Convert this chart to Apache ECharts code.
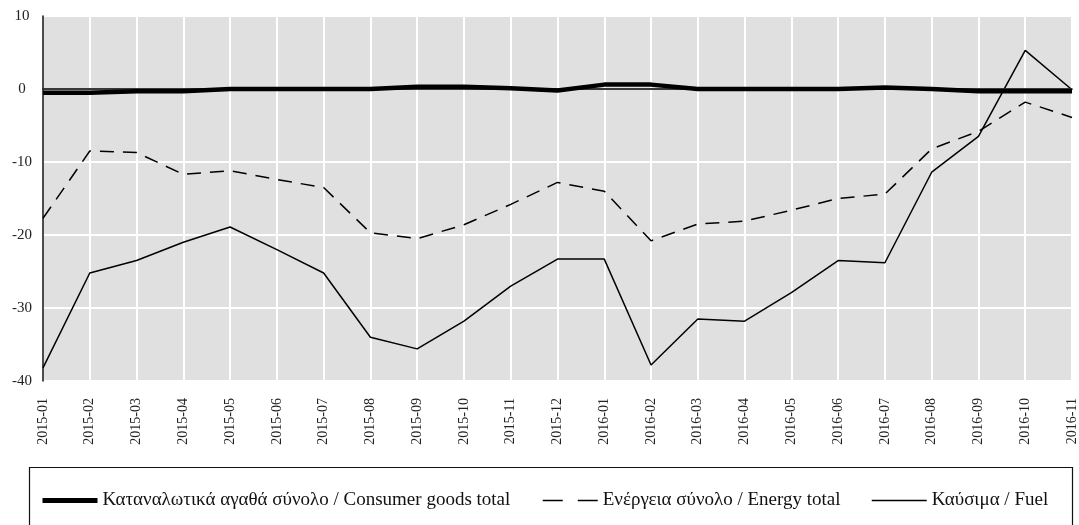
<!DOCTYPE html>
<html>
<head>
<meta charset="utf-8">
<script src="https://cdn.jsdelivr.net/npm/echarts@6/dist/echarts.min.js"></script>
<style>html,body{margin:0;padding:0;background:#fff}#c{width:1079px;height:525px}</style>
</head>
<body>
<div id="c"></div>
<script>
const categories = ['2015-01','2015-02','2015-03','2015-04','2015-05','2015-06','2015-07','2015-08','2015-09','2015-10','2015-11','2015-12',
  '2016-01','2016-02','2016-03','2016-04','2016-05','2016-06','2016-07','2016-08','2016-09','2016-10','2016-11'];
const consumerGoods = [-0.5,-0.5,-0.3,-0.3,0,0,0,0,0.3,0.3,0.1,-0.2,0.6,0.6,0,0,0,0,0.2,0,-0.3,-0.3,-0.3];
const energy = [-17.7,-8.5,-8.7,-11.7,-11.2,-12.4,-13.5,-19.7,-20.5,-18.6,-15.8,-12.8,-14.0,-20.8,-18.5,-18.1,-16.6,-15.0,-14.4,-8.2,-5.8,-1.8,-3.9];
const fuel = [-38.2,-25.2,-23.5,-21.0,-18.9,-22.0,-25.2,-34.0,-35.6,-31.8,-27.0,-23.3,-23.3,-37.8,-31.5,-31.8,-27.9,-23.5,-23.8,-11.4,-6.5,5.3,-0.1];
const yTicks = {min:-40, max:10, interval:10};
const names = ['Καταναλωτικά αγαθά σύνολο / Consumer goods total','Ενέργεια σύνολο / Energy total','Καύσιμα / Fuel'];

const FONT = 'Liberation Serif';
const chart = echarts.init(document.getElementById('c'), null, {renderer:'canvas'});
const legendBase = {top: 491, itemWidth: 55, itemHeight: 16, itemGap: 0,
  itemStyle:{color:'rgba(0,0,0,0)', borderColor:'rgba(0,0,0,0)', borderWidth:0},
  textStyle:{fontFamily:FONT, fontSize:19, color:'#111'}, padding:0, selectedMode:false};
chart.setOption({
  animation:false,
  textStyle:{fontFamily:FONT},
  grid:{left:43, right:4, top:16, bottom:144, backgroundColor:'#e0e0e0', show:true, borderWidth:0},
  graphic:[{type:'rect', shape:{x:29.5, y:467.5, width:1043, height:80}, style:{fill:'none', stroke:'#111', lineWidth:1.2}, silent:true}],
  legend:[
    Object.assign({}, legendBase, {left:40, data:[names[0]], lineStyle:{width:5, color:'#000'}}),
    Object.assign({}, legendBase, {left:542, data:[names[1]], lineStyle:{width:1.5, color:'#000', type:[20,15]}}),
    Object.assign({}, legendBase, {left:871, data:[names[2]], lineStyle:{width:1.5, color:'#000'}})
  ],
  xAxis:{type:'category', data:categories, boundaryGap:false,
    axisLine:{show:true, lineStyle:{color:'#111', width:1.5}},
    axisTick:{show:false},
    axisLabel:{rotate:90, margin:17, fontFamily:FONT, fontSize:14, color:'#222', interval:0},
    splitLine:{show:true, lineStyle:{color:'#ffffff', width:2}}},
  yAxis:{type:'value', min:yTicks.min, max:yTicks.max, interval:yTicks.interval,
    axisLine:{show:true, lineStyle:{color:'#111', width:1.5}},
    axisTick:{show:false},
    axisLabel:{fontFamily:FONT, fontSize:15, color:'#222', margin:21, align:'center'},
    splitLine:{show:true, lineStyle:{color:'#ffffff', width:2}}},
  series:[
    {name:names[0], type:'line', data:consumerGoods, symbol:'none', z:5,
      lineStyle:{color:'#000', width:4.5},
      itemStyle:{color:'#000'},
      markLine:{silent:true, symbol:'none', label:{show:false}, lineStyle:{color:'#333', type:'solid', width:1.5}, data:[{yAxis:0}]}},
    {name:names[1], type:'line', data:energy, symbol:'none', z:4,
      lineStyle:{color:'#000', width:1.5, type:[14,9]}, itemStyle:{color:'#000'}},
    {name:names[2], type:'line', data:fuel, symbol:'none', z:4,
      lineStyle:{color:'#000', width:1.5}, itemStyle:{color:'#000'}}
  ]
});
</script>
</body>
</html>
